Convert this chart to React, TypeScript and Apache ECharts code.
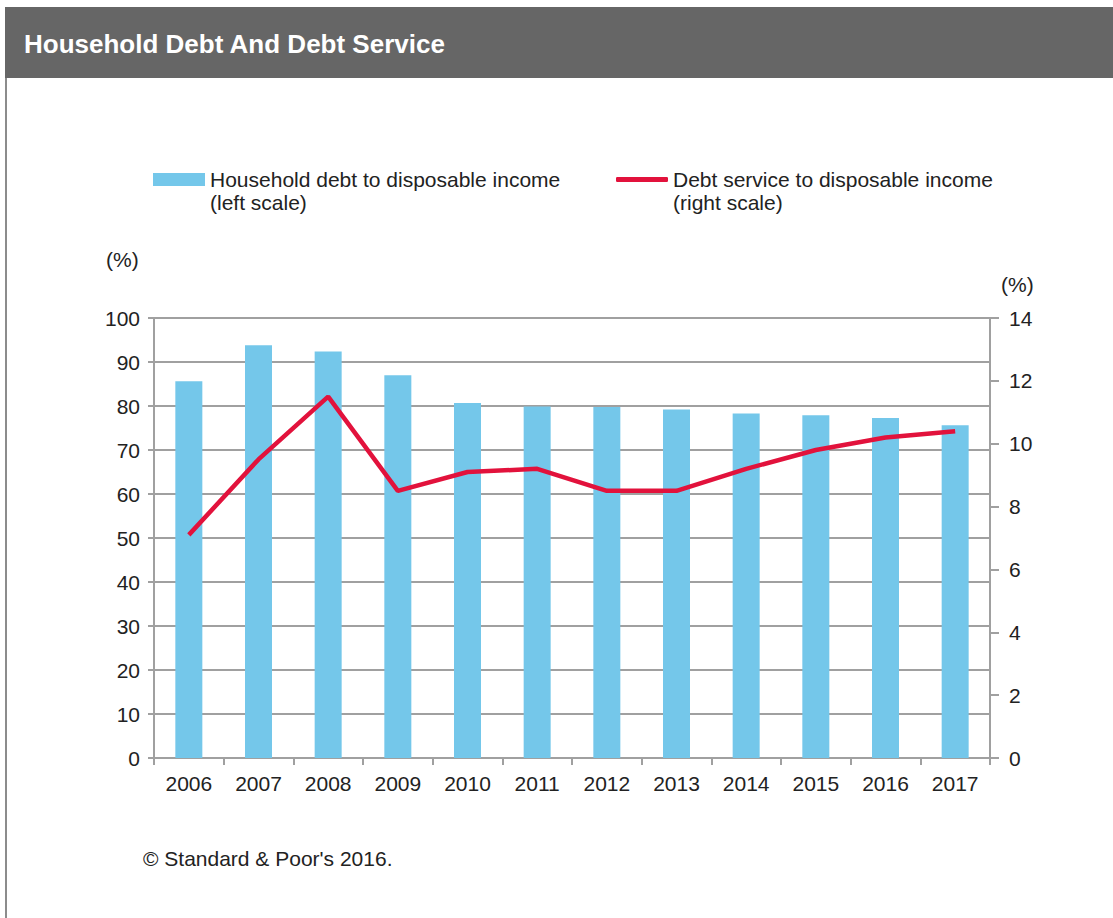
import React, { useEffect, useRef } from "react";
import * as echarts from "echarts";

const years = ["2006", "2007", "2008", "2009", "2010", "2011", "2012", "2013", "2014", "2015", "2016", "2017"];
const debtToIncome = [85.6, 93.8, 92.4, 87.0, 80.7, 79.9, 79.8, 79.2, 78.3, 77.9, 77.3, 75.6];
const debtService = [7.1, 9.5, 11.5, 8.5, 9.1, 9.2, 8.5, 8.5, 9.2, 9.8, 10.2, 10.4];
const barName = "Household debt to disposable income";
const lineName = "Debt service to disposable income";
const barNote = "(left scale)";
const lineNote = "(right scale)";
const titleText = "Household Debt And Debt Service";
const sourceText = "\u00A9 Standard & Poor's 2016.";
const unitText = "(%)";

const FONT = "'Liberation Sans', Arial, Helvetica, sans-serif";
const TXT = "#222";
const AXIS = "#a0a0a0";

export default function App() {
  const ref = useRef<HTMLDivElement>(null);
  useEffect(() => {
    document.body.style.margin = "0";
    const chart = echarts.init(ref.current!, null, { renderer: "svg" });
    chart.setOption({
      animation: false,
      backgroundColor: "#fff",
      textStyle: { fontFamily: FONT },
      title: {
        text: titleText,
        left: 19,
        top: 26,
        textStyle: { color: "#fff", fontSize: 26, fontWeight: "bold", fontFamily: FONT },
      },
      legend: [
        {
          data: [barName],
          left: 153,
          top: 169,
          padding: 0,
          itemWidth: 52,
          itemHeight: 13,
          icon: "rect",
          textStyle: { fontSize: 21, color: TXT, fontFamily: FONT },
        },
        {
          data: [lineName],
          left: 616,
          top: 169,
          padding: 0,
          itemWidth: 52,
          itemHeight: 5,
          icon: "roundRect",
          textStyle: { fontSize: 21, color: TXT, fontFamily: FONT },
        },
      ],
      graphic: [
        { type: "rect", shape: { x: 5, y: 7, width: 1120, height: 71 }, style: { fill: "#666666" }, z: -1 },
        { type: "line", shape: { x1: 6, y1: 78, x2: 6, y2: 918 }, style: { stroke: "#8c8c8c", lineWidth: 2 } },
        { type: "text", left: 210, top: 192, style: { text: barNote, fontSize: 21, fill: TXT, fontFamily: FONT } },
        { type: "text", left: 673, top: 192, style: { text: lineNote, fontSize: 21, fill: TXT, fontFamily: FONT } },
        { type: "text", left: 106, top: 249, style: { text: unitText, fontSize: 21, fill: TXT, fontFamily: FONT } },
        { type: "text", left: 1001, top: 274, style: { text: unitText, fontSize: 21, fill: TXT, fontFamily: FONT } },
        { type: "text", left: 143, top: 848, style: { text: sourceText, fontSize: 21, fill: TXT, fontFamily: FONT } },
      ],
      grid: { left: 154, right: 123, top: 318, bottom: 160 },
      xAxis: {
        type: "category",
        data: years,
        boundaryGap: true,
        axisLine: { lineStyle: { color: AXIS, width: 2 } },
        axisTick: { show: true, length: 7, lineStyle: { color: AXIS, width: 2 } },
        axisLabel: { color: TXT, fontSize: 21, margin: 15, fontFamily: FONT },
      },
      yAxis: [
        {
          type: "value",
          min: 0,
          max: 100,
          interval: 10,
          axisLine: { show: true, lineStyle: { color: AXIS, width: 2 } },
          axisTick: { show: true, length: 6, lineStyle: { color: AXIS, width: 2 } },
          axisLabel: { color: TXT, fontSize: 21, margin: 14, fontFamily: FONT },
          splitLine: { show: true, lineStyle: { color: AXIS, width: 2 } },
        },
        {
          type: "value",
          min: 0,
          max: 14,
          interval: 2,
          position: "right",
          axisLine: { show: true, lineStyle: { color: AXIS, width: 2 } },
          axisTick: { show: true, length: 9, lineStyle: { color: AXIS, width: 2 } },
          axisLabel: { color: TXT, fontSize: 21, margin: 19, fontFamily: FONT },
          splitLine: { show: false },
        },
      ],
      series: [
        {
          name: barName,
          type: "bar",
          yAxisIndex: 0,
          data: debtToIncome,
          barWidth: 27,
          itemStyle: { color: "#74c7ea" },
        },
        {
          name: lineName,
          type: "line",
          yAxisIndex: 1,
          data: debtService,
          symbol: "none",
          lineStyle: { color: "#e2123c", width: 4.5 },
          itemStyle: { color: "#e2123c" },
        },
      ],
    });
    return () => chart.dispose();
  }, []);
  return <div ref={ref} style={{ width: 1113, height: 918 }} />;
}
